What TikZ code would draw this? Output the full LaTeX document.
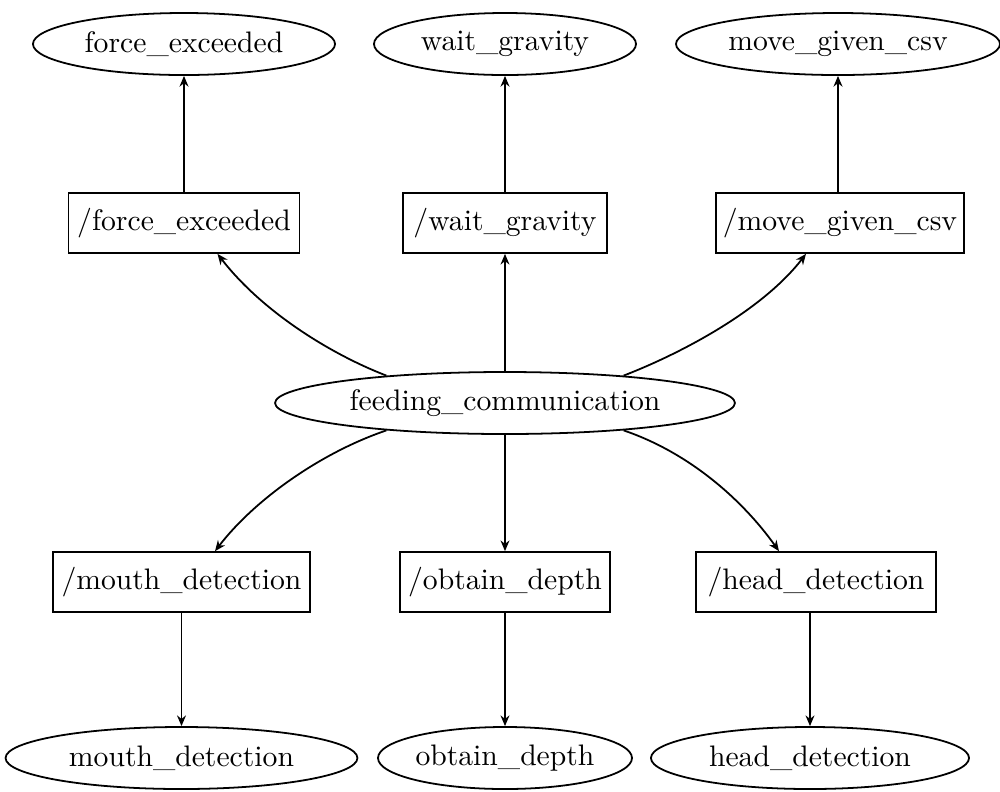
\documentclass[tikz,border=0pt]{standalone}
\usetikzlibrary{shapes.geometric,arrows.meta,calc}
\begin{document}
\begin{tikzpicture}[x=0.337pt,y=-0.337pt,line width=0.6pt,
  ell/.style={draw,ellipse,inner sep=0pt,minimum height=20.9pt},
  box/.style={draw,rectangle,inner sep=0pt,minimum height=20.2pt},
  arr/.style={-{Stealth[length=3.6pt,width=3pt]}}]
\useasboundingbox (0,0) rectangle (1000,791);
% top row ellipses
\node[ell,minimum width=101.8pt] (fe) at (184,44) {force\_exceeded};
\node[ell,minimum width=88.3pt] (wg) at (505,44) {wait\_gravity};
\node[ell,minimum width=109.2pt] (mg) at (838,44) {move\_given\_csv};
% top row boxes
\node[box,minimum width=77.8pt] (fb) at (184,223) {/force\_exceeded};
\node[box,minimum width=68.7pt] (wb) at (505,223) {/wait\_gravity};
\node[box,minimum width=83.6pt] (mb) at (840,223) {/move\_given\_csv};
% center
\node[ell,minimum width=155pt] (fc) at (505,403) {feeding\_communication};
% bottom boxes
\node[box,minimum width=86.6pt] (mdb) at (181.5,582) {/mouth\_detection};
\node[box,minimum width=70.8pt] (odb) at (505,582) {/obtain\_depth};
\node[box,minimum width=80.9pt] (hdb) at (816,582) {/head\_detection};
% bottom ellipses
\node[ell,minimum width=118.6pt] (md) at (181.5,758) {mouth\_detection};
\node[ell,minimum width=85.6pt] (od) at (505,758) {obtain\_depth};
\node[ell,minimum width=107.2pt] (hd) at (810,758) {head\_detection};
% edges top
\draw[arr] (fb.north) -- (fe.south);
\draw[arr] (wb.north) -- (wg.south);
\draw[arr] (mb.north -| mg.south) -- (mg.south);
% center up
\draw[arr] (fc.167) .. controls +(-57,-22) and +(44,57) .. ($(fb.south)+(33.5,0)$);
\draw[arr] (fc.north) -- (wb.south);
\draw[arr] (fc.13) .. controls +(57,-22) and +(-44,57) .. ($(mb.south)+(-34,0)$);
% center down
\draw[arr] (fc.193) .. controls +(-65,22) and +(40,-52) .. ($(mdb.north)+(33.5,0)$);
\draw[arr] (fc.south) -- (odb.north);
\draw[arr] (fc.347) .. controls +(65,22) and +(-37,-52) .. ($(hdb.north)+(-37,0)$);
% bottom edges
\draw[arr] (mdb.south) -- (md.north);
\draw[arr] (odb.south) -- (od.north);
\draw[arr] (hdb.south -| hd.north) -- (hd.north);
\end{tikzpicture}
\end{document}
